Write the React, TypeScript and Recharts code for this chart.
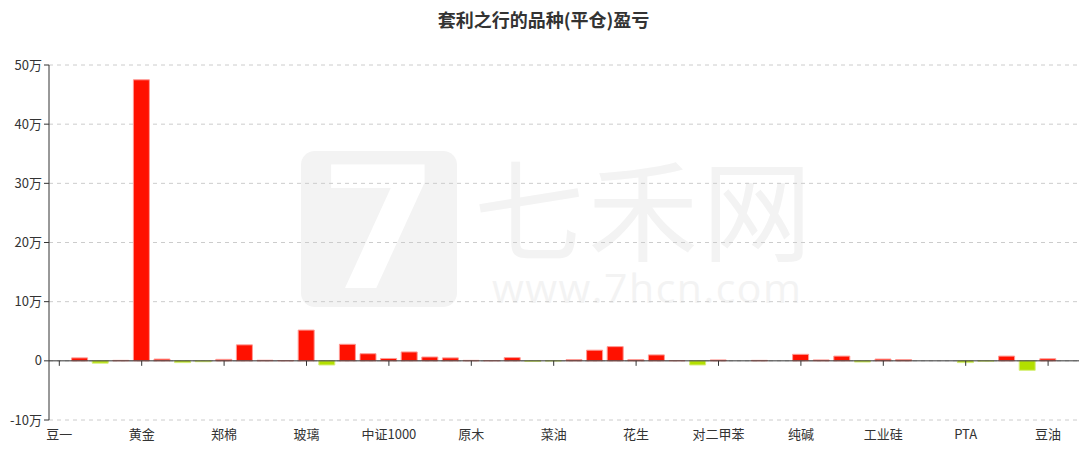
import { Bar, BarChart, CartesianGrid, Cell, ReferenceLine, XAxis, YAxis } from "recharts";

// 品种 (every 4th label is shown on the axis)
const VARIETIES = [
  "豆一", "螺纹钢", "铁矿石", "白糖", "黄金", "白银", "沪铜", "沪铝",
  "郑棉", "棕榈油", "豆粕", "甲醇", "玻璃", "焦炭", "焦煤", "沪深300",
  "中证1000", "上证50", "中证500", "橡胶", "原木", "生猪", "鸡蛋", "苹果",
  "菜油", "菜粕", "红枣", "尿素", "花生", "纸浆", "燃油", "沥青",
  "对二甲苯", "乙二醇", "苯乙烯", "塑料", "纯碱", "烧碱", "硅铁", "锰硅",
  "工业硅", "碳酸锂", "沪锌", "沪镍", "PTA", "短纤", "玉米", "淀粉",
  "豆油", "豆二",
];

// 平仓盈亏 (元)
const PNL = [
  0, 5000, -4000, 800, 475000, 3000, -3000, -1500,
  2500, 27000, 1000, 500, 52000, -7000, 28000, 12000,
  4000, 15000, 6500, 5000, 800, 500, 5500, -1000,
  -200, 2000, 18000, 24000, 2000, 10000, 500, -7000,
  1500, 0, 800, 0, 11000, 1500, 8000, -2000,
  3000, 2000, 0, 0, -3000, -500, 8000, -16000,
  3500, 0,
];

const Y_TICKS = [-100000, 0, 100000, 200000, 300000, 400000, 500000];

const W = 1087;
const H = 453;
const PLOT_TOP = 65;
const PLOT_BOTTOM = 420;
const Y_MIN = -100000;
const Y_MAX = 500000;
const ZERO_Y = PLOT_TOP + ((PLOT_BOTTOM - PLOT_TOP) * Y_MAX) / (Y_MAX - Y_MIN);

const data = VARIETIES.map((name, i) => ({ name, pnl: PNL[i] }));

const fmtWan = (v: number) => (v === 0 ? "0" : `${v / 10000}万`);

function XTick(props: any) {
  const { x, payload } = props;
  return (
    <g>
      <line x1={x} x2={x} y1={ZERO_Y} y2={ZERO_Y + 5} stroke="#333" />
      <text x={x} y={PLOT_BOTTOM + 19} textAnchor="middle" fill="#333" fontSize={13}>
        {payload.value}
      </text>
    </g>
  );
}

export default function App() {
  return (
    <div style={{ position: "absolute", left: 0, top: 0, width: W, height: H, background: "#fff", fontFamily: "'Noto Sans CJK SC', 'Noto Sans', sans-serif" }}>
      {/* watermark */}
      <div style={{ position: "absolute", left: 301, top: 151, width: 156, height: 156, borderRadius: 14, background: "#f3f3f3", color: "#fff", fontSize: 170, fontWeight: 700, lineHeight: "156px", textAlign: "center", fontFamily: "'DejaVu Sans', sans-serif" }}>7</div>
      <div style={{ position: "absolute", left: 474, top: 150, fontSize: 110, color: "#f3f3f3", lineHeight: "110px", letterSpacing: 4 }}>七禾网</div>
      <div style={{ position: "absolute", left: 492, top: 264, fontSize: 41, color: "#f3f3f3", fontFamily: "'Open Sans', sans-serif", letterSpacing: 1.5, lineHeight: "46px" }}>www.7hcn.com</div>
      <div style={{ position: "absolute", left: 0, top: 6, width: W, textAlign: "center", fontSize: 18, fontWeight: 700, color: "#333" }}>
        套利之行的品种(平仓)盈亏
      </div>
      <div style={{ position: "absolute", left: 0, top: 0 }}>
        <BarChart width={W} height={H} data={data} margin={{ top: PLOT_TOP, right: 8, bottom: 0, left: 9 }} barSize={16}>
          <CartesianGrid horizontal vertical={false} stroke="#ccc" strokeDasharray="4 4" />
          <XAxis
            dataKey="name"
            interval={3}
            height={H - PLOT_BOTTOM}
            axisLine={false}
            tickLine={false}
            tick={<XTick />}
          />
          <YAxis
            width={40}
            domain={[Y_MIN, Y_MAX]}
            ticks={Y_TICKS}
            tickFormatter={fmtWan}
            axisLine={{ stroke: "#333" }}
            tickLine={{ stroke: "#333" }}
            tickSize={5}
            tick={{ fill: "#333", fontSize: 13 }}
          />
          <ReferenceLine y={0} stroke="#333" />
          <Bar dataKey="pnl" isAnimationActive={false}>
            {data.map((d, i) => (
              <Cell
                key={i}
                fill={d.pnl >= 0 ? "#ff1100" : "#b3e000"}
                stroke={d.pnl >= 0 ? "#ff9a94" : "#d6ef7a"}
                strokeWidth={1}
              />
            ))}
          </Bar>
        </BarChart>
      </div>
    </div>
  );
}
